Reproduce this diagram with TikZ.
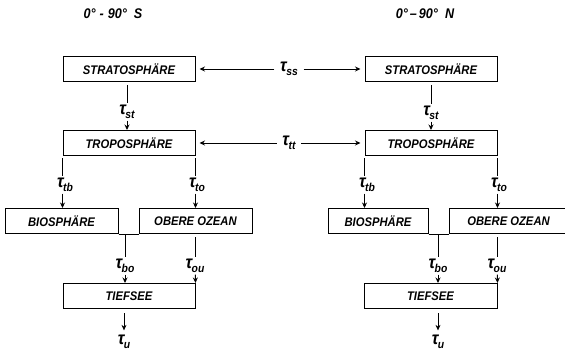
\documentclass[tikz,border=0pt]{standalone}
\usepackage{fontspec}
\setsansfont{Liberation Sans}[FakeStretch=0.9]
\usetikzlibrary{arrows.meta, positioning, calc}
\newcommand{\tl}[1]{{\fontsize{18}{18}\selectfont τ}\kern-0.5pt\raisebox{-0.7ex}{#1}}
\tikzset{
    box/.style={rectangle, draw, line width=1pt, minimum height=25pt, inner sep=0pt, font=\sffamily\bfseries\itshape\fontsize{12.5}{14}\selectfont},
    tau/.style={inner sep=1.5pt, font=\sffamily\bfseries\itshape\fontsize{11.5}{14}\selectfont},
    head/.style={font=\sffamily\bfseries\itshape\fontsize{14}{16}\selectfont},
    ln/.style={line width=1pt},
    arr/.style={-{Stealth[length=5.5pt, width=5pt]}, line width=1pt}
}
\begin{document}
\begin{tikzpicture}[x=1pt, y=-1pt]
    \useasboundingbox (0,0) rectangle (565,356);
    % headings
    \node[head] (hS) at (113,14) {0°\kern4pt-\kern4pt90°\kern7pt S};
    \node[head] (hN) at (425,14) {0°\kern2pt–\kern2pt90°\kern7pt N};

    % southern hemisphere
    \node[box, minimum width=132pt] (strS) at (129,69) {STRATOSPHÄRE};
    \node[box, minimum width=132pt] (tropS) at (129,143) {TROPOSPHÄRE};
    \node[box, minimum width=113pt] (bioS) at (61.5,221) {BIOSPHÄRE};
    \node[box, minimum width=113pt] (oozS) at (195.5,221) {OBERE OZEAN};
    \node[box, minimum width=132pt] (tiefS) at (129,296) {TIEFSEE};

    \node[tau] (tstS) at (127,112) {\tl{st}};
    \node[tau] (ttbS) at (65,185) {\tl{tb}};
    \node[tau] (ttoS) at (197,185) {\tl{to}};
    \node[tau] (tboS) at (125,266) {\tl{bo}};
    \node[tau] (touS) at (195,266) {\tl{ou}};
    \node[tau] (tuS) at (124,342) {\tl{u}};

    % northern hemisphere
    \node[box, minimum width=132pt] (strN) at (431,69) {STRATOSPHÄRE};
    \node[box, minimum width=132pt] (tropN) at (431,143) {TROPOSPHÄRE};
    \node[box, minimum width=100pt] (bioN) at (378,221) {BIOSPHÄRE};
    \node[box, minimum width=119pt] (oozN) at (508.5,221) {OBERE OZEAN};
    \node[box, minimum width=133pt] (tiefN) at (430.5,296) {TIEFSEE};

    \node[tau] (tstN) at (431,113) {\tl{st}};
    \node[tau] (ttbN) at (367,185) {\tl{tb}};
    \node[tau] (ttoN) at (499,185) {\tl{to}};
    \node[tau] (tboN) at (438,266) {\tl{bo}};
    \node[tau] (touN) at (497,266) {\tl{ou}};
    \node[tau] (tuN) at (438,342) {\tl{u}};

    % exchange between hemispheres
    \node[tau] (tss) at (289,69) {\tl{ss}};
    \node[tau] (ttt) at (289,143) {\tl{tt}};
    \draw[arr, shorten <=4pt, shorten >=4pt] (tss) -- (strS);
    \draw[arr, shorten <=4pt, shorten >=4pt] (tss) -- (strN);
    \draw[arr, shorten <=4pt, shorten >=4pt] (ttt) -- (tropS);
    \draw[arr, shorten <=4pt, shorten >=4pt] (ttt) -- (tropN);

    % south: vertical fluxes
    \draw[ln, shorten <=3pt] (strS.south -| tstS) -- (tstS);
    \draw[arr] (tstS) -- (tstS |- tropS.north);
    \draw[ln, shorten <=2pt] (tropS.south west) -- (tropS.south west |- ttbS.north);
    \draw[arr] (tropS.south west |- ttbS.south) -- (tropS.south west |- bioS.north);
    \draw[ln, shorten <=2pt] (tropS.south east) -- (tropS.south east |- ttoS.north);
    \draw[arr] (tropS.south east |- ttoS.south) -- (tropS.south east |- oozS.north);
    \draw[ln] (bioS.south east) -- (oozS.south west);
    \draw[ln] (tboS |- bioS.south) -- (tboS);
    \draw[arr] (tboS) -- (tboS |- tiefS.north);
    \draw[ln, shorten <=3pt] (touS |- oozS.south) -- (touS);
    \draw[arr] (touS) -- (tiefS.north east);
    \draw[arr, shorten <=4pt, shorten >=3pt] (tuS |- tiefS.south) -- (tuS);

    % north: vertical fluxes
    \draw[ln, shorten <=3pt] (strN.south -| tstN) -- (tstN);
    \draw[arr] (tstN) -- (tstN |- tropN.north);
    \draw[ln, shorten <=2pt] (tropN.south west) -- (tropN.south west |- ttbN.north);
    \draw[arr] (tropN.south west |- ttbN.south) -- (tropN.south west |- bioN.north);
    \draw[ln, shorten <=2pt] (tropN.south east) -- (tropN.south east |- ttoN.north);
    \draw[arr] (tropN.south east |- ttoN.south) -- (tropN.south east |- oozN.north);
    \draw[ln] (bioN.south east) -- (oozN.south west);
    \draw[ln] (tboN |- bioN.south) -- (tboN);
    \draw[arr] (tboN) -- (tboN |- tiefN.north);
    \draw[ln, shorten <=3pt] (touN |- oozN.south) -- (touN);
    \draw[arr] (touN) -- (tiefN.north east);
    \draw[arr, shorten <=4pt, shorten >=3pt] (tuN |- tiefN.south) -- (tuN);
\end{tikzpicture}
\end{document}
